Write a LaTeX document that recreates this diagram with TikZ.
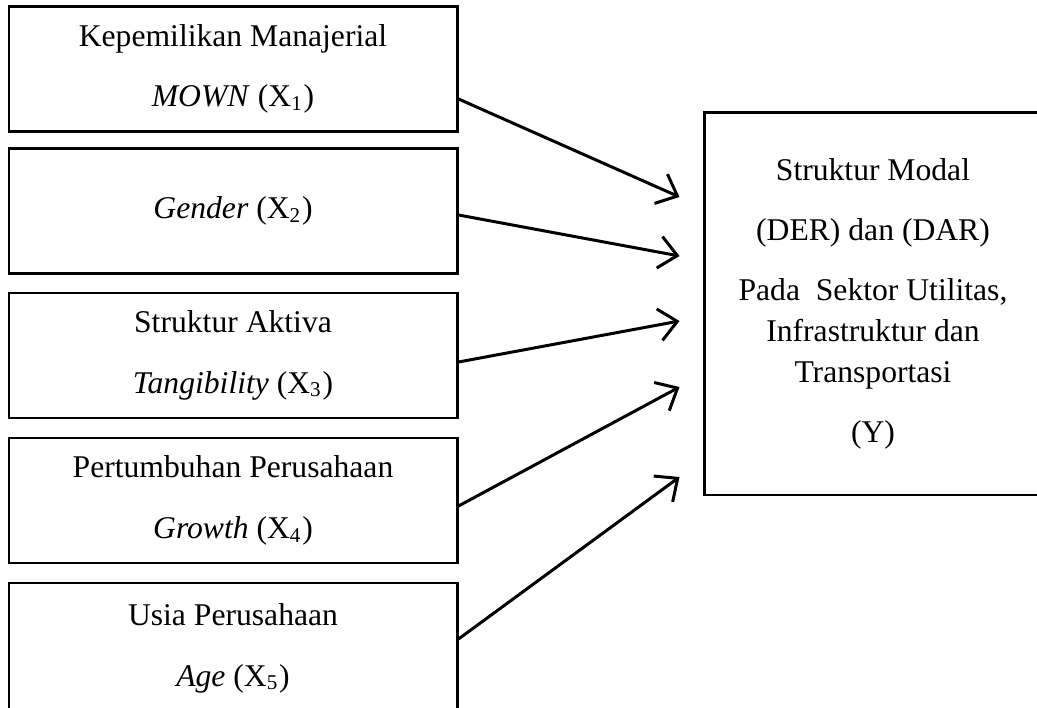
\documentclass[tikz,border=0pt]{standalone}
\usepackage{fontspec}
\setmainfont{Liberation Serif}
\usetikzlibrary{arrows.meta}
\tikzset{
  varbox/.style={draw, line width=0.85pt, minimum width=4.48cm, minimum height=1.25cm,
    inner sep=0pt, align=center, font=\fontsize{9}{17.3}\selectfont},
  arr/.style={line width=0.85pt, -{Straight Barb[length=1.8mm,width=3.2mm]}}
}
\begin{document}
\begin{tikzpicture}[y=-1cm]
                \useasboundingbox (0,0) rectangle (10.37,7.08);
                % Independent variables
                \node[varbox] (x1) at (2.33,0.69) {Kepemilikan Manajerial\\\textit{MOWN} (X\textsubscript{1})};
                \node[varbox] (x2) at (2.33,2.11) {\textit{Gender} (X\textsubscript{2})};
                \node[varbox] (x3) at (2.33,3.555) {Struktur Aktiva\\\textit{Tangibility} (X\textsubscript{3})};
                \node[varbox] (x4) at (2.33,5.005) {Pertumbuhan Perusahaan\\\textit{Growth} (X\textsubscript{4})};
                \node[varbox, minimum height=1.3cm] (x5) at (2.33,6.48) {Usia Perusahaan\\\textit{Age} (X\textsubscript{5})};
                % Dependent variable
                \node[varbox, minimum width=3.38cm, minimum height=3.82cm, font=\fontsize{9}{11.8}\selectfont] (y) at (8.73,3.04)
                    {Struktur Modal\\[5.2pt](DER) dan (DAR)\\[5.2pt]Pada\ \ Sektor Utilitas,\\Infrastruktur dan\\Transportasi\\[5.2pt](Y)};
                % Arrows
                \draw[arr] ([yshift=-3mm]x1.east) -- ([xshift=-2.3mm,yshift=10.7mm]y.west);
                \draw[arr] ([yshift=-0.4mm]x2.east) -- ([xshift=-2.3mm,yshift=4.8mm]y.west);
                \draw[arr] ([yshift=-0.65mm]x3.east) -- ([xshift=-2.3mm,yshift=-1.7mm]y.west);
                \draw[arr] ([yshift=-0.55mm]x4.east) -- ([xshift=-2.3mm,yshift=-8.3mm]y.west);
                \draw[arr] ([yshift=0.9mm]x5.east) -- ([xshift=-2.3mm,yshift=-17.3mm]y.west);
            \end{tikzpicture}
\end{document}
